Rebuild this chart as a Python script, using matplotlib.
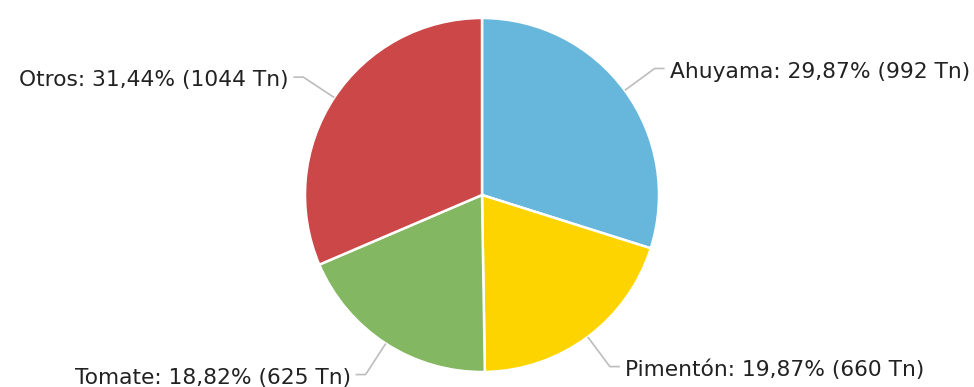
import numpy as np
import matplotlib

matplotlib.use("Agg")

import matplotlib.pyplot as plt

# Datos
categorias = ["Ahuyama", "Pimentón", "Tomate", "Otros"]
toneladas = [992, 660, 625, 1044]
colores = ["#67b7dc", "#fdd400", "#84b761", "#cc4748"]

C_TEXT = "#222222"
C_LINE = "#bdbdbd"

W, H = 974, 387
CX, CY, R = 482, 192, 177


def main():
    fig = plt.figure(figsize=(W / 100, H / 100), dpi=100)
    ax = fig.add_axes([0, 0, 1, 1])

    wedges, _ = ax.pie(
        toneladas,
        colors=colores,
        startangle=90,
        counterclock=False,
        center=(CX, CY),
        radius=R,
        wedgeprops=dict(edgecolor="white", linewidth=1.8),
    )

    total = sum(toneladas)
    for w, nombre, tn in zip(wedges, categorias, toneladas):
        pct = 100 * tn / total
        texto = f"{nombre}: {pct:.2f}%".replace(".", ",") + f" ({tn} Tn)"
        ang = np.deg2rad((w.theta1 + w.theta2) / 2)
        dx, dy = np.cos(ang), np.sin(ang)
        x0, y0 = CX + R * dx, CY + R * dy
        x1, y1 = CX + (R + 37) * dx, CY + (R + 37) * dy
        side = 1 if dx >= 0 else -1
        x2 = x1 + side * 10
        ax.plot([x0, x1, x2], [y0, y1, y1], color=C_LINE, lw=1.2, solid_capstyle="butt", zorder=1)
        ax.text(
            x2 + side * 5,
            y1 - 3,
            texto,
            ha="left" if side > 0 else "right",
            va="center",
            fontsize=15.7,
            color=C_TEXT,
            family="DejaVu Sans",
        )

    ax.set_xlim(0, W)
    ax.set_ylim(0, H)
    ax.set_aspect("equal")
    ax.axis("off")

    fig.savefig("out.png", dpi=100, facecolor="white")
    plt.close(fig)


if __name__ == "__main__":
    main()
